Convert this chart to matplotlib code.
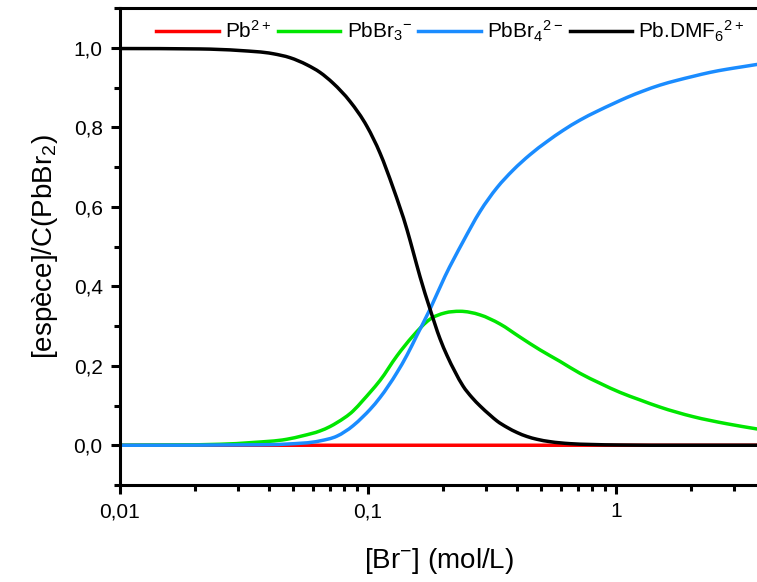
import matplotlib
matplotlib.use("Agg")
import matplotlib.pyplot as plt
from matplotlib.ticker import FuncFormatter, LogLocator, FixedLocator
from matplotlib.path import Path
from matplotlib.patches import PathPatch
from matplotlib.lines import Line2D
import numpy as np

plt.rcParams['font.family'] = ['Liberation Sans', 'DejaVu Sans']
plt.rcParams['mathtext.default'] = 'regular'

# ---- data (x = [Br-] in mol/L) ----
pb_x = [0.01, 0.1, 1.0, 3.703]
pb_y = [0.0, 0.0, 0.0, 0.0]

br3_x = [0.01, 0.02531, 0.03438, 0.0470, 0.05469, 0.06405, 0.07028, 0.07499, 0.0870,
         0.09546, 0.1019, 0.1118, 0.1309, 0.1519, 0.1778, 0.2044, 0.2350, 0.2829,
         0.3407, 0.4103, 0.4937, 0.5946, 0.7158, 0.8619, 1.038, 1.250, 1.504, 2.044,
         2.803, 3.703]
br3_y = [0.0, 0.0025, 0.007, 0.015, 0.024, 0.036, 0.047, 0.057, 0.086,
         0.113, 0.133, 0.163, 0.225, 0.275, 0.317, 0.333, 0.337, 0.328,
         0.305, 0.272, 0.240, 0.211, 0.181, 0.156, 0.133, 0.114, 0.096, 0.072,
         0.054, 0.041]

br4_x = [0.01, 0.03344, 0.0470, 0.06405, 0.07499, 0.0870, 0.09546, 0.1019, 0.1118,
         0.1309, 0.1437, 0.1576, 0.1778, 0.2044, 0.2416, 0.2829, 0.3313, 0.3844,
         0.4501, 0.5270, 0.6114, 0.7158, 0.8382, 0.9725, 1.108, 1.285, 1.504, 1.762,
         2.044, 2.393, 2.803, 3.222, 3.703]
br4_y = [0.0, 0.001, 0.003, 0.011, 0.023, 0.049, 0.072, 0.090, 0.120,
         0.183, 0.227, 0.277, 0.342, 0.425, 0.512, 0.588, 0.648, 0.692,
         0.731, 0.764, 0.792, 0.818, 0.840, 0.859, 0.875, 0.891, 0.906, 0.918,
         0.928, 0.938, 0.946, 0.952, 0.958]

dmf_x = [0.01, 0.02102, 0.03047, 0.0414, 0.04848, 0.05675, 0.06405, 0.07227, 0.08461,
         0.09908, 0.1118, 0.1262, 0.1437, 0.1519, 0.1621, 0.1778, 0.1951, 0.2082,
         0.2243, 0.2416, 0.2627, 0.2829, 0.3104, 0.3313, 0.3636, 0.3990, 0.4377,
         0.4802, 0.5420, 0.6524, 0.7856, 1.038, 1.812, 3.703]
dmf_y = [0.998, 0.997, 0.993, 0.985, 0.975, 0.957, 0.938, 0.911, 0.865,
         0.802, 0.735, 0.648, 0.542, 0.488, 0.424, 0.343, 0.268, 0.226,
         0.185, 0.149, 0.120, 0.099, 0.076, 0.061, 0.045, 0.032, 0.022,
         0.015, 0.009, 0.004, 0.002, 0.0006, 0.0, 0.0]

labels = ['Pb$^{2+}$', 'PbBr$_3$$^{-}$', 'PbBr$_4$$^{2-}$', 'Pb.DMF$_6$$^{2+}$']
colors = ['#ff0000', '#00e600', '#1a8cff', '#000000']


def spline_path(xs, ys):
    """Smooth (spline-style) connection of the data points, drawn as Bezier
    segments in log-x space; the path passes through every data point."""
    xs = np.asarray(xs, float); ys = np.asarray(ys, float)
    u = np.log10(xs)
    h = np.diff(u); d = np.diff(ys) / h
    n = len(u)
    m = np.zeros(n)
    m[0], m[-1] = d[0], d[-1]
    for i in range(1, n - 1):
        if d[i - 1] * d[i] <= 0:
            m[i] = 0.0
        else:
            m[i] = (h[i] * d[i - 1] + h[i - 1] * d[i]) / (h[i - 1] + h[i])
            lim = 3 * min(abs(d[i - 1]), abs(d[i]))
            m[i] = np.sign(m[i]) * min(abs(m[i]), lim)
    verts = [(xs[0], ys[0])]
    codes = [Path.MOVETO]
    for i in range(n - 1):
        c1u = u[i] + h[i] / 3; c1y = ys[i] + m[i] * h[i] / 3
        c2u = u[i + 1] - h[i] / 3; c2y = ys[i + 1] - m[i + 1] * h[i] / 3
        verts += [(10 ** c1u, c1y), (10 ** c2u, c2y), (xs[i + 1], ys[i + 1])]
        codes += [Path.CURVE4] * 3
    return Path(verts, codes)


fig = plt.figure(figsize=(7.57, 5.82), dpi=100)
ax = fig.add_axes([120/757, (582-485)/582, (757-120)/757, (485-8)/582])
ax.set_xscale('log')

series = [(pb_x, pb_y), (br3_x, br3_y), (br4_x, br4_y), (dmf_x, dmf_y)]
handles = []
for (xs, ys), lab, c in zip(series, labels, colors):
    ax.add_patch(PathPatch(spline_path(xs, ys), fill=False, edgecolor=c, lw=2.5,
                           capstyle='round', joinstyle='round'))
    handles.append(Line2D([], [], color=c, lw=2.5, label=lab))

ax.set_xlim(0.01, 3.703)
ax.set_ylim(-0.1, 1.1)

ax.xaxis.set_major_locator(FixedLocator([0.01, 0.1, 1]))
ax.xaxis.set_minor_locator(LogLocator(base=10, subs=np.arange(2, 10)))
ax.xaxis.set_major_formatter(FuncFormatter(lambda v, p: ('%g' % v).replace('.', ',')))
ax.xaxis.set_minor_formatter(FuncFormatter(lambda v, p: ''))
ax.yaxis.set_major_locator(FixedLocator([0.0, 0.2, 0.4, 0.6, 0.8, 1.0]))
ax.yaxis.set_minor_locator(FixedLocator([-0.1, 0.1, 0.3, 0.5, 0.7, 0.9, 1.1]))
ax.yaxis.set_major_formatter(FuncFormatter(lambda v, p: ('%.1f' % v).replace('.', ',')))

for s in ['left', 'bottom', 'top']:
    ax.spines[s].set_linewidth(2.2)
ax.spines['right'].set_visible(False)
ax.tick_params(which='major', direction='out', length=6.5, width=2.2, labelsize=15, pad=6)
ax.tick_params(which='minor', direction='out', length=4.3, width=2.2)
ax.tick_params(top=False, right=False, which='both')

ax.set_xlabel('[Br$^{-}$] (mol/L)', fontsize=20, labelpad=18)
ax.set_ylabel('[espèce]/C(PbBr$_2$)', fontsize=20, labelpad=10)

fig.legend(handles=handles, loc='center left', bbox_to_anchor=(148/757, 1 - 31/582),
           ncol=4, frameon=False, fontsize=15, handlelength=3.0, handletextpad=0.3,
           columnspacing=0.3, borderaxespad=0)

fig.savefig('out.png', dpi=100)
